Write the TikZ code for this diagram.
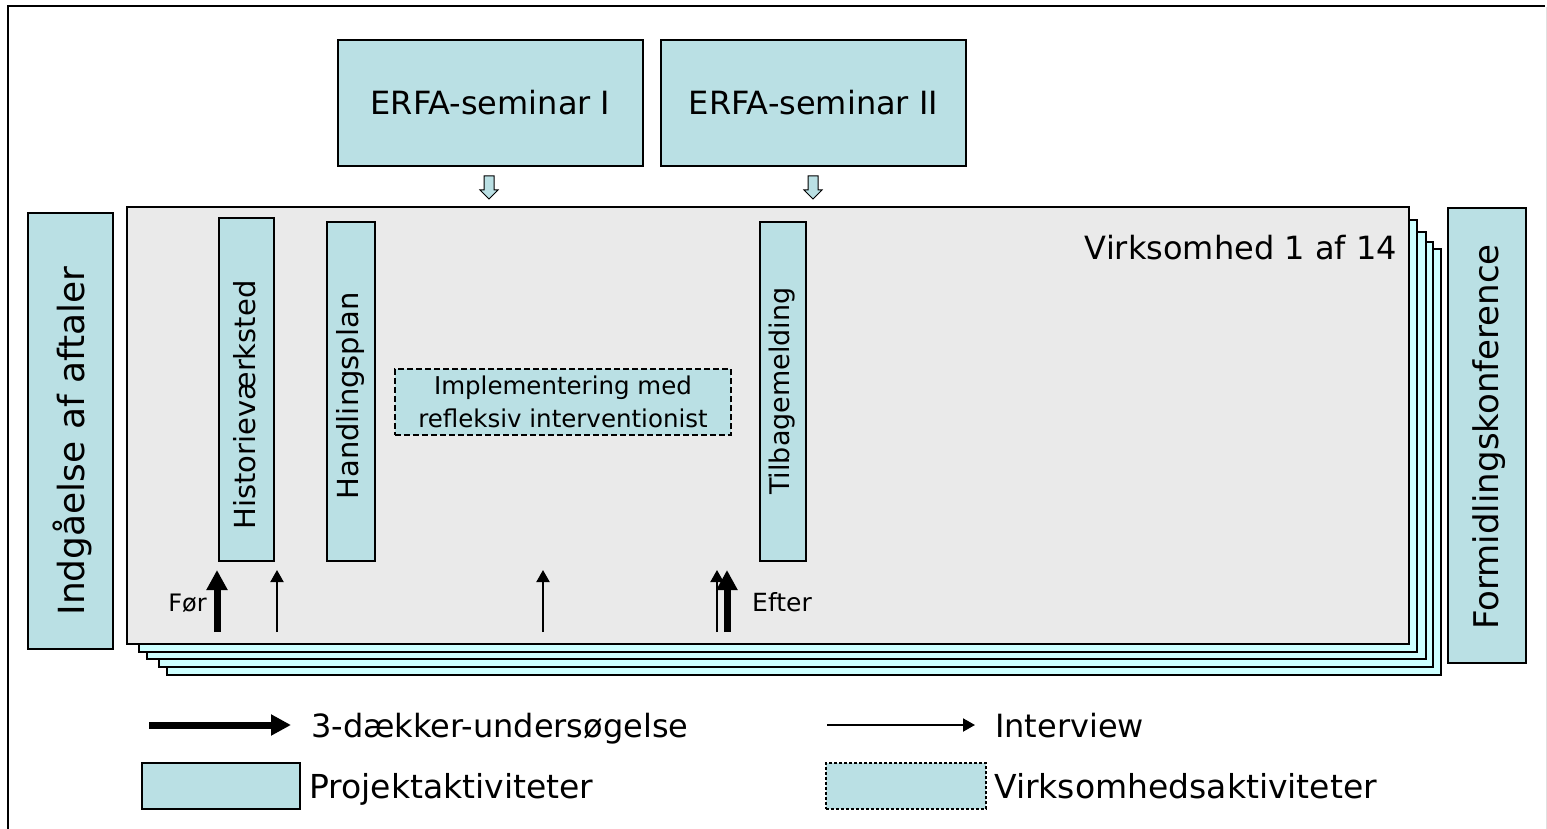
\documentclass[tikz,border=0pt]{standalone}
\usepackage{fontspec}
\setmainfont{DejaVu Sans}
\usetikzlibrary{arrows.meta}
\definecolor{boxblue}{RGB}{186,224,228}
\definecolor{cardgray}{RGB}{234,234,234}
\definecolor{cardcyan}{RGB}{204,255,255}
\def\erfaarrow(#1){\draw[pbox, line width=1pt] (#1-5,176) -- (#1+5,176) -- (#1+5,190) -- (#1+9,190) -- (#1,199) -- (#1-9,190) -- (#1-5,190) -- cycle;}
\tikzset{
	pbox/.style={draw, line width=1.5pt, fill=boxblue, inner sep=0pt},
	vbox/.style={pbox, dash pattern=on 6pt off 3pt},
	vtext/.style={rotate=90, inner sep=0pt, font=\fontsize{29}{34}\selectfont},
	card/.style={draw, line width=1.5pt, fill=cardcyan},
	bigarrow/.style={line width=7pt, -{Triangle[length=20pt,width=20pt]}},
	smallarrow/.style={line width=2pt, -{Triangle[length=12pt,width=13pt]}},
}

\begin{document}
\begin{tikzpicture}[x=1pt, y=-1pt]
			%%%%% START %%%%%
			\useasboundingbox (0,0) rectangle (1547,829);
			
			\draw[line width=1.5pt] (8,829) -- (8,6) -- (1545,6);
			\draw[line width=1pt, color=black!12] (1546,7) -- (1546,829);
			
			\node[pbox, minimum width=305pt, minimum height=126pt, font=\fontsize{32}{38}\selectfont] (erfa1) at (490.5,103) {ERFA-seminar I};
			\node[pbox, minimum width=305pt, minimum height=126pt, font=\fontsize{32}{38}\selectfont] (erfa2) at (813.5,103) {ERFA-seminar II};
			\erfaarrow(489)
			\erfaarrow(813)
			
			% stack of firms, back to front
			\draw[card] (167,249) rectangle (1441,675);
			\draw[card] (159,242) rectangle (1433,667);
			\draw[card] (147,232) rectangle (1426,659);
			\draw[card] (139,220) rectangle (1417,652);
			\draw[card, fill=cardgray] (127,207) rectangle (1409,644);
			\node[anchor=base east, inner sep=0pt, font=\fontsize{32}{38}\selectfont] (firm) at (1397,259) {Virksomhed 1 af 14};
			
			\node[pbox, minimum width=85pt, minimum height=436pt] (aftale) at (70.5,431) {};
			\node[vtext, font=\fontsize{36}{42}\selectfont] (aftaletxt) at (72,441) {Indgåelse af aftaler};
			\node[pbox, minimum width=78pt, minimum height=455pt] (formid) at (1487,435.5) {};
			\node[vtext, font=\fontsize{34}{40}\selectfont] (formidtxt) at (1489,437) {Formidlingskonference};
			
			\node[pbox, minimum width=55pt, minimum height=343pt] (hist) at (246.5,389.5) {};
			\node[vtext] (histtxt) at (245,405) {Historieværksted};
			\node[pbox, minimum width=48pt, minimum height=339pt] (plan) at (351,391.5) {};
			\node[vtext] (plantxt) at (350,396) {Handlingsplan};
			\node[pbox, minimum width=46pt, minimum height=339pt] (tilbage) at (783,391.5) {};
			\node[vtext, font=\fontsize{27}{32}\selectfont] (tilbagetxt) at (782,391) {Tilbagemelding};
			\node[vbox, minimum width=336pt, minimum height=66pt, align=center, font=\fontsize{24.5}{33}\selectfont] (impl) at (563,402) {Implementering med\\refleksiv interventionist};
			
			\draw[bigarrow] (217,632) -- (217,570);
			\draw[smallarrow] (277,632) -- (277,570);
			\draw[smallarrow] (543,632) -- (543,570);
			\draw[smallarrow] (717,632) -- (717,570);
			\draw[bigarrow] (727,632) -- (727,570);
			\node[anchor=base east, inner sep=0pt, font=\fontsize{24}{28}\selectfont] (foer) at (207,611) {Før};
			\node[anchor=base west, inner sep=0pt, font=\fontsize{25}{30}\selectfont] (efter) at (752,611) {Efter};
			
			% legend
			\draw[bigarrow] (149,725) -- (291,725);
			\node[anchor=base west, inner sep=0pt, font=\fontsize{32}{38}\selectfont] (ltre) at (311,737) {3-dækker-undersøgelse};
			\draw[smallarrow] (827,725) -- (975,725);
			\node[anchor=base west, inner sep=0pt, font=\fontsize{32}{38}\selectfont] (lint) at (995,737) {Interview};
			\node[pbox, minimum width=158pt, minimum height=46pt] (lproj) at (221,786) {};
			\node[anchor=base west, inner sep=0pt, font=\fontsize{33}{38}\selectfont] (lprojtxt) at (309,798) {Projektaktiviteter};
			\node[pbox, dash pattern=on 3pt off 2pt, minimum width=160pt, minimum height=46pt] (lvirk) at (906,786) {};
			\node[anchor=base west, inner sep=0pt, font=\fontsize{33}{38}\selectfont] (lvirktxt) at (994,798) {Virksomhedsaktiviteter};
			
			%%%%% END %%%%%
\end{tikzpicture}
\end{document}
